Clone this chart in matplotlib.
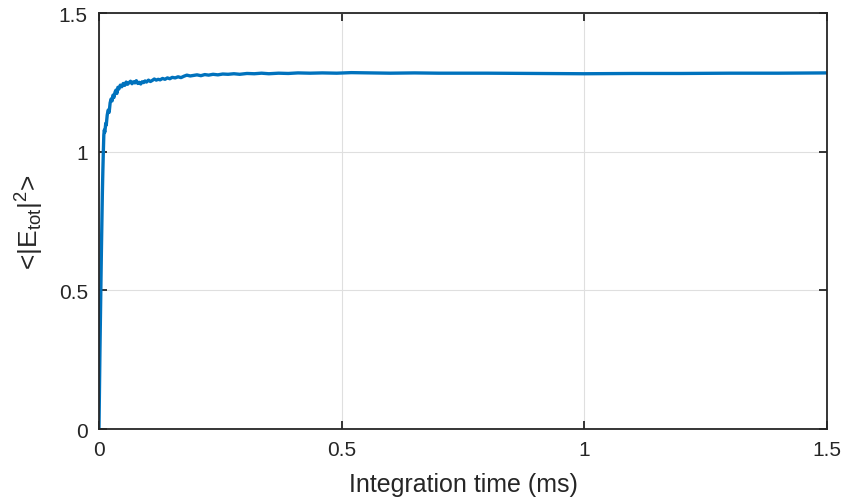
import matplotlib
matplotlib.use('Agg')
import matplotlib.pyplot as plt

plt.rcParams['font.family'] = ['Liberation Sans', 'DejaVu Sans']
plt.rcParams['mathtext.fontset'] = 'custom'
plt.rcParams['mathtext.rm'] = 'Liberation Sans'
plt.rcParams['mathtext.it'] = 'Liberation Sans'

DARK = '#262626'
LINE_BLUE = '#0072BD'

# integration time (ms) and mean intensity
t_ms = [0.000, 0.002, 0.004, 0.005, 0.007, 0.008, 0.009, 0.010, 0.011, 0.012,
        0.014, 0.015, 0.017, 0.019, 0.021, 0.023, 0.025, 0.027, 0.029, 0.031,
        0.033, 0.035, 0.037, 0.039, 0.041, 0.044, 0.047, 0.050, 0.053, 0.056,
        0.059, 0.062, 0.065, 0.068, 0.071, 0.074, 0.077, 0.080, 0.083, 0.086,
        0.089, 0.092, 0.095, 0.098, 0.102, 0.106, 0.110, 0.114, 0.118, 0.122,
        0.126, 0.131, 0.136, 0.141, 0.146, 0.151, 0.157, 0.163, 0.169, 0.175,
        0.181, 0.188, 0.195, 0.202, 0.210, 0.218, 0.226, 0.235, 0.245, 0.255,
        0.266, 0.278, 0.290, 0.305, 0.320, 0.335, 0.350, 0.370, 0.390, 0.410,
        0.435, 0.460, 0.490, 0.520, 0.560, 0.600, 0.650, 0.700, 0.800, 0.900,
        1.000, 1.100, 1.200, 1.300, 1.400, 1.500]
e_tot_sq = [0.000, 0.280, 0.520, 0.640, 0.850, 0.930, 1.000, 1.060, 1.078, 1.070,
            1.102, 1.096, 1.132, 1.150, 1.142, 1.176, 1.190, 1.183, 1.204, 1.196,
            1.214, 1.222, 1.210, 1.232, 1.226, 1.240, 1.234, 1.246, 1.239, 1.251,
            1.243, 1.249, 1.254, 1.245, 1.252, 1.248, 1.256, 1.246, 1.250, 1.244,
            1.252, 1.249, 1.255, 1.251, 1.258, 1.253, 1.257, 1.262, 1.258, 1.261,
            1.259, 1.264, 1.261, 1.266, 1.263, 1.268, 1.266, 1.270, 1.267, 1.272,
            1.276, 1.273, 1.275, 1.277, 1.274, 1.278, 1.276, 1.279, 1.277, 1.280,
            1.279, 1.281, 1.279, 1.282, 1.281, 1.283, 1.281, 1.283, 1.282, 1.284,
            1.283, 1.284, 1.283, 1.285, 1.284, 1.283, 1.284, 1.283, 1.283, 1.282,
            1.281, 1.282, 1.282, 1.283, 1.283, 1.284]

ticks = [0, 0.5, 1, 1.5]
tick_labels = ['0', '0.5', '1', '1.5']

fig = plt.figure(figsize=(8.43, 5.02), dpi=100)
ax = fig.add_axes([0.1174, 0.1434, 0.9810 - 0.1174, 0.9721 - 0.1434])

ax.plot(t_ms, e_tot_sq, color=LINE_BLUE, linewidth=2.4)

ax.set_xlim(0, 1.5)
ax.set_ylim(0, 1.5)
ax.set_xticks(ticks)
ax.set_xticklabels(tick_labels)
ax.set_yticks(ticks)
ax.set_yticklabels(tick_labels)

ax.grid(True, color='#dfdfdf', linewidth=0.8)
ax.set_axisbelow(True)
for s in ax.spines.values():
    s.set_color(DARK)
    s.set_linewidth(1.3)
ax.tick_params(direction='in', length=6, width=1.3, colors=DARK,
               labelsize=15, top=True, right=True, pad=8)

ax.set_xlabel('Integration time (ms)', fontsize=18, color=DARK, labelpad=9)
ax.set_ylabel(r'<|E$_{\mathrm{tot}}$|$^{2}$>', fontsize=19, color=DARK, labelpad=9)

fig.savefig('out.png', dpi=100, facecolor='white')
